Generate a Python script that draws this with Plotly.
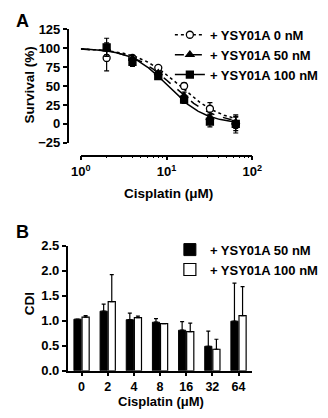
import numpy as np
import plotly.graph_objects as go

# page body has an 8px default margin -> figure is laid out in page pixels minus 8
OFF = 8
W, H = 328 - OFF, 418 - OFF
FONT = "Liberation Sans, Arial, Helvetica, sans-serif"

# ---------------- Panel A data ----------------
doses_a = [2, 4, 8, 16, 32, 64]
series_a = ["+ YSY01A 0 nM", "+ YSY01A 50 nM", "+ YSY01A 100 nM"]
surv_0 = [87, 87, 74, 50, 20, 0]
surv_0_err = [17, 3, 2, 4, 8, 12]
surv_50 = [99, 86, 67, 37, 8, 2]
surv_50_err = [8, 4, 2, 5, 5, 8]
surv_100 = [101, 82, 63, 32, 3, 0]
surv_100_err = [12, 6, 3, 5, 7, 9]
# fitted dose-response parameters (top, bottom, IC50, Hill slope)
fit_top = [100, 100, 100]
fit_bottom = [0, 0, 0]
fit_ic50 = [14.3, 11.9, 10.4]
fit_hill = [1.72, 1.79, 1.99]
fit_xmin, fit_xmax = 1, 64

# ---------------- Panel B data ----------------
doses_b = ["0", "2", "4", "8", "16", "32", "64"]
series_b = ["+ YSY01A 50 nM", "+ YSY01A 100 nM"]
cdi_50 = [1.03, 1.19, 1.02, 0.97, 0.81, 0.49, 0.99]
cdi_50_err = [0.0, 0.14, 0.13, 0.07, 0.17, 0.30, 0.76]
cdi_100 = [1.07, 1.38, 1.06, 0.94, 0.78, 0.43, 1.10]
cdi_100_err = [0.03, 0.54, 0.03, 0.0, 0.17, 0.20, 0.58]


def px(x):
    return (x - OFF) / W


def py(y):
    return 1 - (y - OFF) / H


fig = go.Figure()

styles = [
    dict(dash="dot", symbol="circle", fill="white"),
    dict(dash="dash", symbol="triangle-up", fill="black"),
    dict(dash="solid", symbol="square", fill="black"),
]
vals = [surv_0, surv_50, surv_100]
errs = [surv_0_err, surv_50_err, surv_100_err]

xfit = np.logspace(np.log10(fit_xmin), np.log10(fit_xmax), 200)
for i, name in enumerate(series_a):
    st = styles[i]
    yfit = fit_bottom[i] + (fit_top[i] - fit_bottom[i]) / (1 + (xfit / fit_ic50[i]) ** fit_hill[i])
    fig.add_trace(go.Scatter(
        x=xfit, y=yfit, mode="lines", showlegend=False,
        line=dict(color="black", width=1.5, dash=st["dash"]),
        xaxis="x", yaxis="y", hoverinfo="skip"))
for i, name in enumerate(series_a):
    st = styles[i]
    marker = dict(symbol=st["symbol"], size=7,
                  color=st["fill"], line=dict(color="black", width=1.3))
    fig.add_trace(go.Scatter(
        x=doses_a, y=vals[i], mode="markers", showlegend=False,
        marker=marker,
        error_y=dict(type="data", array=errs[i], color="black", thickness=1.2, width=2.5),
        xaxis="x", yaxis="y"))
    fig.add_trace(go.Scatter(
        x=[None], y=[None], mode="lines+markers", name=name, legend="legend",
        marker=marker, line=dict(color="black", width=1.5, dash=st["dash"]),
        xaxis="x", yaxis="y"))

# Panel B bars
fig.add_trace(go.Bar(
    x=doses_b, y=cdi_50, name=series_b[0], legend="legend2",
    marker=dict(color="black", line=dict(color="black", width=1)),
    error_y=dict(type="data", symmetric=False, array=cdi_50_err,
                 arrayminus=[0] * len(cdi_50_err), color="black", thickness=1.2, width=2),
    xaxis="x2", yaxis="y2"))
fig.add_trace(go.Bar(
    x=doses_b, y=cdi_100, name=series_b[1], legend="legend2",
    marker=dict(color="white", line=dict(color="black", width=1.2)),
    error_y=dict(type="data", symmetric=False, array=cdi_100_err,
                 arrayminus=[0] * len(cdi_100_err), color="black", thickness=1.2, width=2),
    xaxis="x2", yaxis="y2"))

tickfont = dict(family=FONT, size=13, color="black", weight="bold")
legfont = dict(family=FONT, size=13, color="black", weight="bold")
axis_common = dict(showgrid=False, zeroline=False, showline=True, linecolor="black",
                   linewidth=1.5, ticks="outside", ticklen=4, tickwidth=1.5,
                   tickcolor="black", tickfont=tickfont)

fig.update_layout(
    width=W, height=H, margin=dict(l=0, r=0, t=0, b=0),
    paper_bgcolor="white", plot_bgcolor="white",
    font=dict(family=FONT, color="black"),
    barmode="group", bargap=0.38, bargroupgap=0.12,
    xaxis=dict(axis_common, type="log", range=[0, 2],
               domain=[px(75), px(258)], anchor="free", position=py(154),
               tickvals=[1, 10, 100],
               ticktext=["10<sup>0</sup>", "10<sup>1</sup>", "10<sup>2</sup>"],
               minor=dict(ticks="outside", ticklen=2, tickwidth=1, tickcolor="black",
                          tickvals=[2, 3, 4, 5, 6, 7, 8, 9, 20, 30, 40, 50, 60, 70, 80, 90])),
    yaxis=dict(axis_common, range=[-25, 125], domain=[py(140.7), py(22.7)],
               anchor="free", position=px(61), tickvals=[-25, 0, 25, 50, 75, 100, 125]),
    xaxis2=dict(axis_common, type="category", range=[-0.53, 6.53],
                domain=[px(61), px(258)], anchor="y2", ticklen=3,
                tickfont=dict(tickfont, size=12.5)),
    yaxis2=dict(axis_common, range=[0, 2.5], domain=[py(377.3), py(247.3)],
                anchor="x2", tickvals=[0, 0.5, 1, 1.5, 2, 2.5], tickformat=".1f"),
    legend=dict(x=px(170), y=py(13), xanchor="left", yanchor="top",
                bgcolor="rgba(0,0,0,0)", font=legfont, itemwidth=30,
                tracegroupgap=0),
    legend2=dict(x=px(170), y=py(236), xanchor="left", yanchor="top",
                 bgcolor="rgba(0,0,0,0)", font=legfont, itemwidth=30,
                 traceorder="normal"),
)

title_font = dict(family=FONT, size=13.5, color="black", weight="bold")
annos = [
    dict(text="A", x=px(4), y=py(14), xanchor="left", yanchor="middle",
         font=dict(family=FONT, size=18, color="black", weight="bold")),
    dict(text="B", x=px(4), y=py(233), xanchor="left", yanchor="middle",
         font=dict(family=FONT, size=18, color="black", weight="bold")),
    dict(text="Survival (%)", x=px(20), y=py(81), textangle=-90,
         xanchor="center", yanchor="middle", font=title_font),
    dict(text="Cisplatin (\u03bcM)", x=px(168), y=py(193),
         xanchor="center", yanchor="middle", font=title_font),
    dict(text="CDI", x=px(20), y=py(308), textangle=-90,
         xanchor="center", yanchor="middle", font=title_font),
    dict(text="Cisplatin (\u03bcM)", x=px(161), y=py(409),
         xanchor="center", yanchor="middle", font=dict(title_font, size=13)),
]
for a in annos:
    fig.add_annotation(xref="paper", yref="paper", showarrow=False, **a)

fig.write_html("out.html")
